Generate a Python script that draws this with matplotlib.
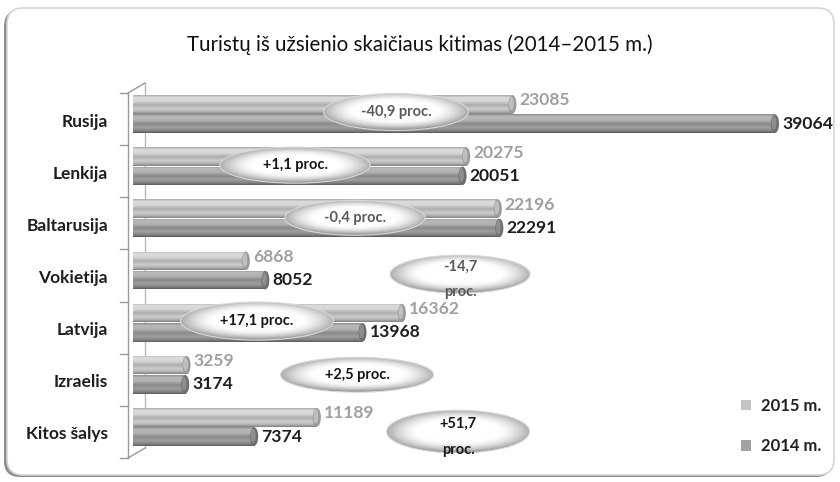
import numpy as np
import matplotlib
matplotlib.use("Agg")
import matplotlib.pyplot as plt
from matplotlib.patches import Ellipse, FancyBboxPatch, Patch
from matplotlib.lines import Line2D
from matplotlib.transforms import ScaledTranslation, IdentityTransform, blended_transform_factory

plt.rcParams['font.family'] = ['Lato', 'DejaVu Sans']

# ---------------- data ----------------
title = "Turistų iš užsienio skaičiaus kitimas (2014–2015 m.)"
categories = ["Rusija", "Lenkija", "Baltarusija", "Vokietija", "Latvija", "Izraelis", "Kitos šalys"]
values_2015 = [23085, 20275, 22196, 6868, 16362, 3259, 11189]
values_2014 = [39064, 20051, 22291, 8052, 13968, 3174, 7374]
change_labels = ["-40,9 proc.", "+1,1 proc.", "-0,4 proc.", "-14,7\nproc.",
                 "+17,1 proc.", "+2,5 proc.", "+51,7\nproc."]
series_names = ["2015 m.", "2014 m."]

# ---------------- layout of the change bubbles (annotation positions) ----------------
bubble_x = [16000, 9860, 13500, 19900, 7550, 13630, 19780]
bubble_dy = [-0.04, -0.02, -0.01, 0.07, -0.03, 0.0, 0.09]
bubble_w = [8820, 9130, 8520, 8520, 9310, 9310, 8700]
bubble_h = [0.71, 0.69, 0.67, 0.73, 0.73, 0.67, 0.82]

W, H = 840, 482
fig = plt.figure(figsize=(W / 100, H / 100), dpi=100)
fig.patch.set_facecolor('white')

# rounded frame with shadow
shadow = FancyBboxPatch((4, 5), 828, 467, boxstyle="round,pad=0,rounding_size=16",
                        transform=IdentityTransform(), facecolor='#8c8c8c',
                        edgecolor='none', zorder=-2)
frame = FancyBboxPatch((7, 7), 827, 467, boxstyle="round,pad=0,rounding_size=16",
                       transform=IdentityTransform(), facecolor='white',
                       edgecolor='#d4d4d4', linewidth=1.2, zorder=-1)
fig.patches.extend([shadow, frame])

fig.text(420 / W, 1 - 45 / H, title, ha='center', va='center', fontsize=14.8, color='#111111')

# axes: bars start at x=133px, 39064 ends ~775px
px_per_unit = 642 / 39064
x_max = 42000
ax_left, ax_top, ax_bottom = 133, 88, 453
ax_w = x_max * px_per_unit
ax = fig.add_axes([ax_left / W, 1 - ax_bottom / H, ax_w / W, (ax_bottom - ax_top) / H])
ax.set_zorder(2)
ax.set_xlim(0, x_max)
ax.set_ylim(len(categories) - 0.5, -0.5)
ax.patch.set_alpha(0)
for s in ax.spines.values():
    s.set_visible(False)
ax.set_xticks([])

ypos = np.arange(len(categories))
bh = 0.355
off = 0.185

col_2015 = '#c4c4c4'
col_2014 = '#a2a2a2'

bars15 = ax.barh(ypos - off, values_2015, height=bh, color=col_2015, zorder=2)
bars14 = ax.barh(ypos + off, values_2014, height=bh, color=col_2014, zorder=2)

t = np.array([0, 0.12, 0.32, 0.52, 0.72, 0.88, 1.0])
prof15 = np.array([0.66, 0.86, 0.84, 0.68, 0.80, 0.70, 0.50])
prof14 = np.array([0.55, 0.72, 0.70, 0.54, 0.62, 0.52, 0.36])
tt = np.linspace(0, 1, 64)


def shade(bars, prof, capcol, hicol):
    g = np.interp(tt, t, prof)[:, None]
    for b in bars:
        x0 = b.get_x()
        w = b.get_width()
        y0 = b.get_y()
        h = b.get_height()
        im = ax.imshow(g, cmap='gray', vmin=0, vmax=1, aspect='auto', origin='upper',
                       extent=(x0, x0 + w, y0 + h, y0), zorder=3, interpolation='bilinear')
        im.set_clip_path(b)
        cap_w = 8 / px_per_unit
        ax.add_patch(Ellipse((x0 + w, y0 + h / 2), cap_w, h, facecolor=capcol,
                             edgecolor='none', zorder=3.5))
        ax.add_patch(Ellipse((x0 + w - cap_w * 0.12, y0 + h * 0.45), cap_w * 0.6, h * 0.75,
                             facecolor=hicol, edgecolor='none', zorder=3.6, alpha=0.7))


shade(bars15, prof15, '#9a9a9a', '#d0d0d0')
shade(bars14, prof14, '#6e6e6e', '#9c9c9c')

# value labels
for b, v in zip(bars15, values_2015):
    ax.annotate(f"{v}", (b.get_width(), b.get_y() + b.get_height() / 2),
                xytext=(7, 4), textcoords='offset pixels', ha='left', va='center',
                fontsize=12.6, fontweight='bold', color='#a0a0a0', zorder=6)
for b, v in zip(bars14, values_2014):
    ax.annotate(f"{v}", (b.get_width(), b.get_y() + b.get_height() / 2),
                xytext=(7, 0), textcoords='offset pixels', ha='left', va='center',
                fontsize=12.6, fontweight='bold', color='#1e1e1e', zorder=6)

# category labels
ax.set_yticks(ypos)
ax.set_yticklabels(categories, fontsize=12.5, fontweight='bold', color='#1e1e1e')
ax.tick_params(axis='y', length=0, pad=18)
for lab in ax.get_yticklabels():
    lab.set_transform(lab.get_transform() + ScaledTranslation(0, -0.06, fig.dpi_scale_trans))


# 3D wall decoration
def off_tr(dx_px, dy_px):
    return blended_transform_factory(ax.transAxes, ax.transData) + \
        ScaledTranslation(dx_px / 100, dy_px / 100, fig.dpi_scale_trans)


n = len(categories)
front = off_tr(-5, -5)
back = off_tr(12, 5)
lc = '#9a9a9a'
ax.add_line(Line2D([0, 0], [-0.5, n - 0.5], transform=front, color=lc, lw=1.0, clip_on=False, zorder=1))
ax.add_line(Line2D([0, 0], [-0.5, n - 0.5], transform=back, color='#b8b8b8', lw=1.0, clip_on=False, zorder=1))
for k in range(n + 1):
    y = k - 0.5
    p = front.transform((0, y))
    fig.add_artist(Line2D([p[0] - 8, p[0]], [p[1], p[1]], transform=IdentityTransform(),
                          color=lc, lw=1.0, zorder=3))
for y in [-0.5, n - 0.5]:
    p1 = front.transform((0, y))
    p2 = back.transform((0, y))
    fig.add_artist(Line2D([p1[0], p2[0]], [p1[1], p2[1]], transform=IdentityTransform(),
                          color=lc, lw=1.0, zorder=3))

# change bubbles
yy, xx = np.mgrid[-1:1:80j, -1:1:160j]
r = np.sqrt(xx ** 2 + yy ** 2)
bub = 1.0 - 0.32 * np.clip((r - 0.55) / 0.45, 0, 1) ** 1.6 - 0.12 * np.clip(yy, 0, 1) ** 3
for i, lab in enumerate(change_labels):
    cx = bubble_x[i]
    cy = ypos[i] + bubble_dy[i]
    w, h = bubble_w[i], bubble_h[i]
    e = Ellipse((cx, cy), w, h, facecolor='none', edgecolor='#d8d8d8', lw=0.8, zorder=4.5)
    ax.add_patch(e)
    im = ax.imshow(bub, cmap='gray', vmin=0, vmax=1, aspect='auto', origin='upper',
                   extent=(cx - w / 2, cx + w / 2, cy + h / 2, cy - h / 2), zorder=4.4,
                   interpolation='bilinear')
    im.set_clip_path(e)
    neg = lab.startswith('-')
    two = '\n' in lab
    ax.text(cx, cy + (0.1 if two else 0), lab, ha='center', va='center', fontsize=10.5,
            fontweight='bold', color='#5a5a5a' if neg else '#151515', zorder=5,
            linespacing=2.1 if two else 1.2)

ax.set_xlim(0, x_max)
ax.set_ylim(n - 0.5, -0.5)

# legend
handles = [Patch(facecolor=col_2015, edgecolor='none'), Patch(facecolor=col_2014, edgecolor='none')]
leg = fig.legend(handles, series_names, loc='center left', bbox_to_anchor=(726 / W, 1 - 426 / H),
                 frameon=False, handlelength=0.6, handleheight=0.6,
                 handletextpad=0.6, labelspacing=1.45, prop={'weight': 'bold', 'size': 12})
leg.set_zorder(5)
for txt in leg.get_texts():
    txt.set_color('#222222')

fig.savefig("out.png", dpi=100, facecolor='white')
